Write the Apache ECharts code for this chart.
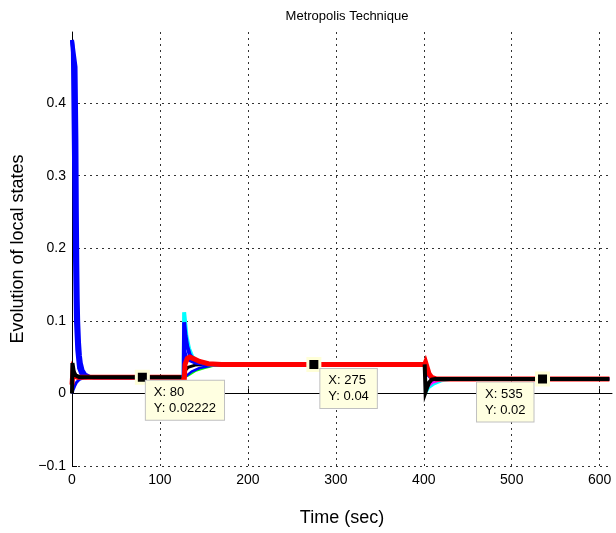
<!DOCTYPE html>
<html>
<head>
<meta charset="utf-8">
<script src="https://cdn.jsdelivr.net/npm/echarts@6/dist/echarts.min.js"></script>
<style>
  html, body { margin: 0; padding: 0; background: #fff; }
  #chart { width: 616px; height: 533px; }
</style>
</head>
<body>
<div id="chart"></div>
<script>
// phase 1 (0 - 127 s): states settle at 1/45
var blue1a = [[0,0.487],[2,0.486],[4,0.45],[5,0.35],[5.5,0.25],[6,0.18],[6.5,0.13],[7,0.1],[8,0.07],[9,0.052],[10,0.042],[12,0.032],[15,0.026],[20,0.023],[25,0.0222],[127,0.0222]];
var blue1b = [[0,0.487],[1,0.47],[2.5,0.3],[3.5,0.18],[4.5,0.1],[6,0.06],[8,0.035],[11,0.026],[16,0.0222],[127,0.0222]];
var blue1c = [[0,0],[1,0.004],[3,0.01],[5,0.015],[8,0.019],[12,0.021],[20,0.0222],[127,0.0222]];
var red1 = [[0,0.012],[1,0.03],[3,0.024],[6,0.0222],[127,0.0222]];
var black1 = [[0,0],[0.5,0.042],[2,0.03],[4,0.025],[8,0.0225],[127,0.0222]];

// phase 2 (127 - 401 s): states settle at 0.04
var cyan2 = [[127,0.0222],[127.5,0.112],[128.5,0.1],[130,0.08],[133,0.062],[137,0.05],[143,0.044],[150,0.041],[160,0.04],[401,0.04]];
var blue2a = [[127,0.0222],[127.5,0.098],[129,0.08],[131,0.065],[134,0.053],[138,0.047],[145,0.043],[155,0.041],[170,0.04],[401,0.04]];
var blue2b = [[127,0.0222],[128,0.06],[130,0.05],[134,0.045],[140,0.042],[150,0.04],[401,0.04]];
var blue2c = [[127,0.0222],[130,0.024],[136,0.03],[145,0.035],[158,0.038],[175,0.04],[401,0.04]];
var green2 = [[127,0.0222],[128,0.02],[132,0.025],[140,0.031],[150,0.035],[160,0.038],[175,0.0395],[190,0.04],[401,0.04]];
var black2 = [[127,0.0222],[128,0.03],[132,0.036],[140,0.039],[150,0.04],[401,0.04]];
var red2 = [[127,0.0222],[127.5,0.015],[128.5,0.04],[131,0.048],[134,0.05],[138,0.048],[145,0.044],[155,0.041],[170,0.04],[401,0.04]];

// phase 3 (401 - 611 s): states settle at 0.02
var cyan3 = [[401,0.04],[403,0.002],[406,0.008],[412,0.013],[420,0.017],[432,0.019],[445,0.02],[611,0.02]];
var magenta3 = [[401,0.04],[402.5,0.005],[405,0.01],[410,0.015],[418,0.018],[428,0.0195],[440,0.02],[611,0.02]];
var blue3 = [[401,0.04],[402,0.033],[404,0.026],[408,0.021],[414,0.02],[611,0.02]];
var red3 = [[401,0.04],[402,0.043],[404,0.035],[406,0.027],[409,0.022],[414,0.02],[611,0.02]];
var black3 = [[401,0.04],[402,0.002],[404,0.009],[406,0.015],[409,0.019],[413,0.02],[611,0.02]];

// data tips
var tipX = [80, 275, 535];
var tipY = ['0.02222', '0.04', '0.02'];

function line(data, color, width) {
  return {
    type: 'line',
    data: data,
    symbol: 'none',
    animation: false,
    lineStyle: { color: color, width: width, join: 'miter', cap: 'butt' }
  };
}

// label box offsets, relative to the marker's bounding box
var tipLabel = [[11, 11], [14, 12], [-58, 11]];

var tipData = tipX.map(function (x, i) {
  return {
    value: [x, parseFloat(tipY[i])],
    label: {
      position: tipLabel[i],
      formatter: 'X: ' + x + '\nY: ' + tipY[i]
    }
  };
});

var chart = echarts.init(document.getElementById('chart'));
chart.setOption({
  animation: false,
  title: {
    text: 'Metropolis Technique',
    left: 342,
    top: 5,
    textAlign: 'center',
    textStyle: { fontFamily: 'Liberation Sans', fontSize: 13, fontWeight: 'normal', color: '#000' }
  },
  grid: { left: 72, right: 4, top: 32, bottom: 67 },
  xAxis: {
    type: 'value',
    min: 0,
    max: 614,
    interval: 100,
    name: 'Time (sec)',
    nameLocation: 'middle',
    nameGap: 43,
    nameTextStyle: { fontFamily: 'Liberation Sans', fontSize: 18, color: '#000' },
    axisLine: { show: true, lineStyle: { color: '#000', width: 1 } },
    axisTick: { show: true, inside: true, length: 5, lineStyle: { color: '#000' } },
    axisLabel: { fontFamily: 'Liberation Sans', fontSize: 14, color: '#000', margin: 7, showMaxLabel: false },
    splitLine: { show: true, showMaxLine: false, lineStyle: { color: '#333', type: [2, 4], width: 1 } }
  },
  yAxis: {
    type: 'value',
    min: -0.1,
    max: 0.498,
    interval: 0.1,
    name: 'Evolution of local states',
    nameLocation: 'middle',
    nameGap: 41,
    nameTextStyle: { fontFamily: 'Liberation Sans', fontSize: 18, color: '#000' },
    axisLine: { show: true, lineStyle: { color: '#000', width: 1 } },
    axisTick: { show: true, inside: true, length: 5, lineStyle: { color: '#000' } },
    axisLabel: {
      fontFamily: 'Liberation Sans', fontSize: 14, color: '#000', margin: 6, showMaxLabel: false,
      formatter: function (v) {
        var s = String(Math.round(v * 10) / 10);
        return s.replace('-', '\u2212');
      }
    },
    splitLine: { show: true, showMaxLine: false, lineStyle: { color: '#333', type: [2, 4], width: 1 } }
  },
  series: [
    line(blue1c, '#0000ff', 3),
    line(blue1b, '#0000ff', 4),
    line(blue1a, '#0000ff', 4),
    line(red1, '#ff0000', 5),
    line(black1, '#000000', 4),

    line(green2, '#00ff00', 2.5),
    line(blue2c, '#0000ff', 2.5),
    line(black2, '#000000', 3),
    line(cyan2, '#00ffff', 4),
    line(blue2a, '#0000ff', 4),
    line(blue2b, '#0000ff', 3),
    line(red2, '#ff0000', 5),

    line(cyan3, '#00ffff', 2.5),
    line(magenta3, '#ff00ff', 2.5),
    line(blue3, '#0000ff', 3),
    line(red3, '#ff0000', 5),
    line(black3, '#000000', 4),

    {
      type: 'scatter',
      data: tipData,
      symbol: 'rect',
      symbolSize: 12,
      z: 10,
      animation: false,
      itemStyle: { color: '#000', borderColor: '#ffffd8', borderWidth: 3, opacity: 1 },
      label: {
        show: true,
        align: 'left',
        verticalAlign: 'top',
        fontFamily: 'Liberation Sans',
        fontSize: 13,
        lineHeight: 16,
        color: '#000',
        backgroundColor: '#ffffe1',
        borderColor: '#c0c0c0',
        borderWidth: 1,
        padding: [4, 8, 3, 8]
      }
    }
  ]
});
</script>
</body>
</html>
